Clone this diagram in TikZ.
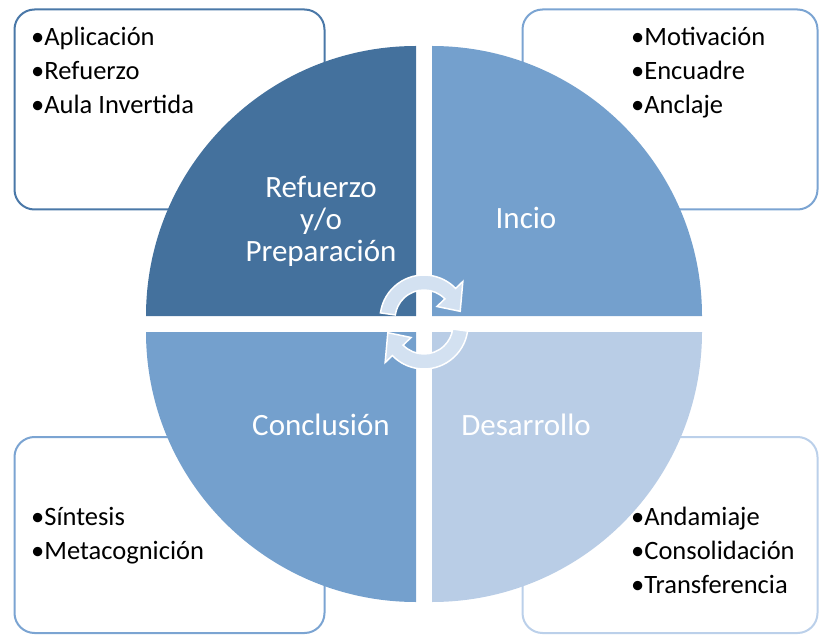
\documentclass[tikz,border=0pt]{standalone}
\usepackage{fontspec}
\setmainfont{Carlito}
\usepackage{xcolor}
\usepackage{tikz}
\usetikzlibrary{positioning}
\usetikzlibrary{calc}

\definecolor{darkq}{HTML}{44719D}
\definecolor{midq}{HTML}{74A0CD}
\definecolor{lightq}{HTML}{B9CDE6}
\definecolor{darkline}{HTML}{4A78A8}
\definecolor{midline}{HTML}{7BA4D2}
\definecolor{lightline}{HTML}{BBD0EA}
\definecolor{arrowfill}{HTML}{D3E1F1}

\begin{document}
\begin{tikzpicture}[x=1pt,y=-1pt]
    \useasboundingbox (0,0) rectangle (819,636);
    % side boxes
    \begin{scope}[every node/.style={rectangle,rounded corners=20pt,line width=2pt,fill=white,inner sep=0pt}]
    \node[draw=darkline,minimum width=310pt,minimum height=200pt] (tlbox) at (169.5,109.5) {};
    \node[draw=midline,minimum width=295pt,minimum height=200pt] (trbox) at (670,109.5) {};
    \node[draw=midline,minimum width=310pt,minimum height=196pt] (blbox) at (169.5,535) {};
    \node[draw=lightline,minimum width=295pt,minimum height=196pt] (brbox) at (670,535) {};
    \end{scope}
    % quadrants
    \fill[darkq] (416,316) -- (146,316) arc[start angle=180,end angle=270,radius=270] -- cycle;
    \fill[midq] (432,316) -- (702,316) arc[start angle=0,end angle=-90,radius=270] -- cycle;
    \fill[midq] (416,332) -- (146,332) arc[start angle=180,end angle=90,radius=270] -- cycle;
    \fill[lightq] (432,332) -- (702,332) arc[start angle=0,end angle=90,radius=270] -- cycle;
    % circular arrows
    \begin{scope}[shift={(424,319)}]
    \filldraw[fill=arrowfill,draw=white,line width=1.5pt,line join=miter]
        (188:44) arc[start angle=188,end angle=316,radius=44] -- (316:54) -- (348:37)
        -- (316:18) -- (316:29) arc[start angle=316,end angle=188,radius=29] -- cycle;
    \end{scope}
    \begin{scope}[rotate around={180:(424,322)},shift={(424,319)}]
    \filldraw[fill=arrowfill,draw=white,line width=1.5pt,line join=miter]
        (188:44) arc[start angle=188,end angle=316,radius=44] -- (316:54) -- (348:37)
        -- (316:18) -- (316:29) arc[start angle=316,end angle=188,radius=29] -- cycle;
    \end{scope}
    % quadrant labels
    \begin{scope}[every node/.style={text=white,inner sep=0pt,align=center,anchor=base,font=\fontsize{31}{32.5}\selectfont}]
    \node (prep) at (321,262) {Refuerzo\\y/o\\Preparación};
    \node (inicio) at (526,229) {Incio};
    \node (concl) at (321,435) {Conclusión};
    \node (desarr) at (526,435) {Desarrollo};
    \end{scope}
    % bullet lists
    \begin{scope}[every node/.style={text=black,inner sep=0pt,align=left,anchor=base west,font=\fontsize{26.5}{34}\selectfont}]
    \node (tllist) at (31,114) {•Aplicación\\•Refuerzo\\•Aula Invertida};
    \node (trlist) at (631,114) {•Motivación\\•Encuadre\\•Anclaje};
    \node (bllist) at (31,559) {•Síntesis\\•Metacognición};
    \node (brlist) at (631,593) {•Andamiaje\\•Consolidación\\•Transferencia};
    \end{scope}
\end{tikzpicture}
\end{document}
